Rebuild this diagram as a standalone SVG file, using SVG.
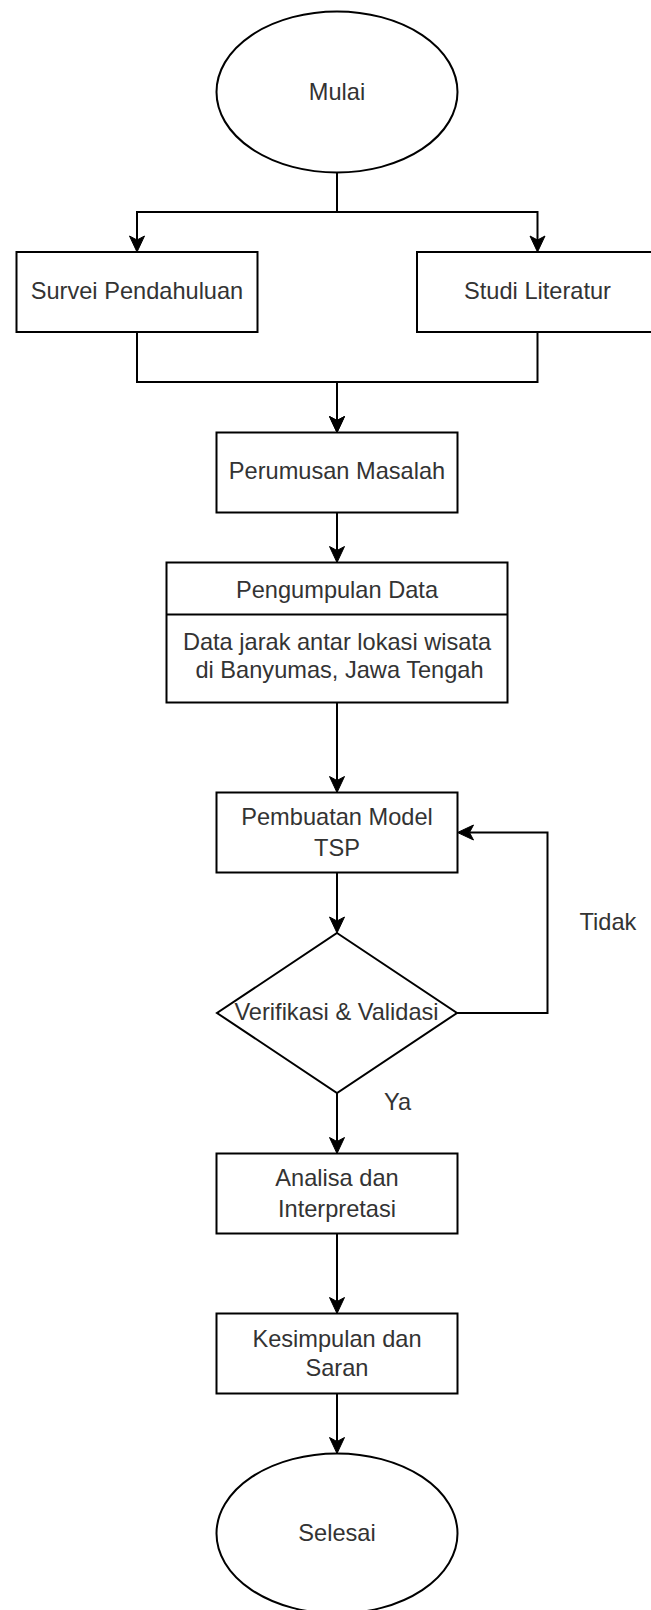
<svg xmlns="http://www.w3.org/2000/svg" width="651" height="1610" viewBox="0 0 651 1610">
<style>
.shape{fill:#ffffff;stroke:#000000;stroke-width:2}
.edge{fill:none;stroke:#000000;stroke-width:2}
.lbl{font-family:"Liberation Sans",Arial,Helvetica,sans-serif;font-size:23.6px;fill:#333333;text-anchor:middle}
</style>
<defs>
<marker id="arr" markerUnits="userSpaceOnUse" markerWidth="20" markerHeight="20" refX="0" refY="0" orient="auto" overflow="visible">
<path d="M-4,-7.5 L12,0 L-4,7.5 L0,0 Z" fill="#000000" stroke="#000000" stroke-width="1"/>
</marker>
</defs>
<rect x="0" y="0" width="651" height="1610" fill="#ffffff"/>
<g id="connectors">
<path class="edge" d="M337,172.5 V212 H137 V240" marker-end="url(#arr)"/>
<path class="edge" d="M337,172.5 V212 H537.5 V240" marker-end="url(#arr)"/>
<path class="edge" d="M137,332 V382 H337 V420.5" marker-end="url(#arr)"/>
<path class="edge" d="M537.5,332 V382 H337 V420.5" marker-end="url(#arr)"/>
<path class="edge" d="M337,512.5 V550.5" marker-end="url(#arr)"/>
<path class="edge" d="M337,702.5 V780.5" marker-end="url(#arr)"/>
<path class="edge" d="M337,872.5 V921" marker-end="url(#arr)"/>
<path class="edge" d="M457,1013 H547.5 V832.5 H469.5" marker-end="url(#arr)"/>
<path class="edge" d="M337,1093 V1141.5" marker-end="url(#arr)"/>
<path class="edge" d="M337,1233.5 V1301.5" marker-end="url(#arr)"/>
<path class="edge" d="M337,1393.5 V1441.5" marker-end="url(#arr)"/>
<text class="lbl" x="608" y="930">Tidak</text>
<text class="lbl" x="397.5" y="1109.5">Ya</text>
</g>
<g id="mulai">
<ellipse class="shape" cx="337" cy="92" rx="120.5" ry="80.5"/>
<text class="lbl" x="337" y="100">Mulai</text>
</g>
<g id="survei">
<rect class="shape" x="16.5" y="252" width="241" height="80"/>
<text class="lbl" x="137" y="298.5">Survei Pendahuluan</text>
</g>
<g id="studi">
<rect class="shape" x="417" y="252" width="241" height="80"/>
<text class="lbl" x="537.5" y="298.5">Studi Literatur</text>
</g>
<g id="perumusan">
<rect class="shape" x="216.5" y="432.5" width="241" height="80"/>
<text class="lbl" x="337" y="479">Perumusan Masalah</text>
</g>
<g id="pengumpulan">
<rect class="shape" x="166.5" y="562.5" width="341" height="140"/>
<line class="edge" x1="166.5" y1="614.5" x2="507.5" y2="614.5"/>
<text class="lbl" x="337" y="597.5">Pengumpulan Data</text>
<text class="lbl" x="337" y="649.5">Data jarak antar lokasi wisata</text>
<text class="lbl" x="339.5" y="677.5">di Banyumas, Jawa Tengah</text>
</g>
<g id="pembuatan">
<rect class="shape" x="216.5" y="792.5" width="241" height="80"/>
<text class="lbl" x="337" y="825">Pembuatan Model</text>
<text class="lbl" x="337" y="855.5">TSP</text>
</g>
<g id="verifikasi">
<polygon class="shape" points="337,933 457,1013 337,1093 217,1013"/>
<text class="lbl" x="336.5" y="1019.5">Verifikasi &amp; Validasi</text>
</g>
<g id="analisa">
<rect class="shape" x="216.5" y="1153.5" width="241" height="80"/>
<text class="lbl" x="337" y="1186">Analisa dan</text>
<text class="lbl" x="337" y="1216.5">Interpretasi</text>
</g>
<g id="kesimpulan">
<rect class="shape" x="216.5" y="1313.5" width="241" height="80"/>
<text class="lbl" x="337" y="1346.5">Kesimpulan dan</text>
<text class="lbl" x="337" y="1376">Saran</text>
</g>
<g id="selesai">
<ellipse class="shape" cx="337" cy="1533.5" rx="120.5" ry="80"/>
<text class="lbl" x="337" y="1541">Selesai</text>
</g>
</svg>
